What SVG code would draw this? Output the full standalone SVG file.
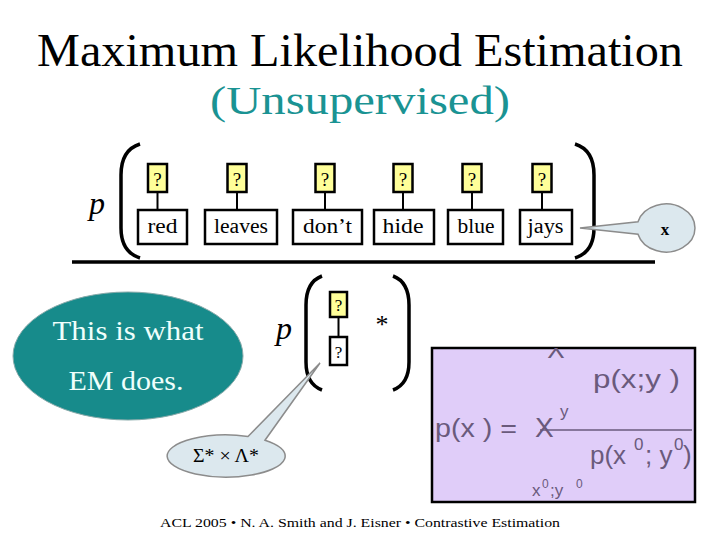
<svg xmlns="http://www.w3.org/2000/svg" width="720" height="540" viewBox="0 0 720 540">
<style>
.serif{font-family:"Liberation Serif","DejaVu Serif",serif}
.sans{font-family:"Liberation Sans","DejaVu Sans",sans-serif}
.q{fill:#ffff99;stroke:#000;stroke-width:2.5}
.w{fill:#fff;stroke:#000;stroke-width:2.5}
.bt{font-size:20px;text-anchor:middle}
.qt{font-size:19px;text-anchor:middle}
.paren{fill:none;stroke:#000;stroke-width:3.5}
.stem{stroke:#000;stroke-width:2}
.f{fill:#6a5a7c}
</style>
<defs>
<clipPath id="boxclip"><rect x="432" y="348" width="263" height="154"/></clipPath>
</defs>
<rect width="720" height="540" fill="#fff"/>
<g id="title">
<text class="serif" x="360" y="66" font-size="46" text-anchor="middle" textLength="646" lengthAdjust="spacingAndGlyphs">Maximum Likelihood Estimation</text>
<text class="serif" x="360" y="114" font-size="40" text-anchor="middle" fill="#1a9393" textLength="300" lengthAdjust="spacingAndGlyphs">(Unsupervised)</text>
</g>
<g id="p1"><text class="serif" x="97" y="214" font-size="32" font-style="italic" text-anchor="middle">p</text></g>
<g id="brackets1">
<path class="paren" d="M140 144 Q121 150 121 175 L121 228 Q121 252 140 258"/>
<path class="paren" d="M575 144 Q594 150 594 175 L594 228 Q594 252 575 258"/>
</g>
<g id="connectors">
<line class="stem" x1="157.5" y1="192" x2="157.5" y2="210"/>
<line class="stem" x1="237" y1="192" x2="237" y2="210"/>
<line class="stem" x1="325" y1="192" x2="325" y2="210"/>
<line class="stem" x1="403" y1="192" x2="403" y2="210"/>
<line class="stem" x1="472" y1="192" x2="472" y2="210"/>
<line class="stem" x1="542" y1="192" x2="542" y2="210"/>
<line class="stem" x1="338.5" y1="317" x2="338.5" y2="337"/>
</g>
<g id="n-red"><rect class="q" x="148" y="164" width="19" height="28"/><text class="serif qt" x="157.5" y="186">?</text><rect class="w" x="138" y="210" width="49" height="34"/><text class="serif bt" x="162.5" y="233" textLength="30" lengthAdjust="spacingAndGlyphs">red</text></g>
<g id="n-leaves"><rect class="q" x="227.5" y="164" width="19" height="28"/><text class="serif qt" x="237" y="186">?</text><rect class="w" x="205" y="210" width="72" height="34"/><text class="serif bt" x="241" y="233" textLength="54" lengthAdjust="spacingAndGlyphs">leaves</text></g>
<g id="n-dont"><rect class="q" x="315.5" y="164" width="19" height="28"/><text class="serif qt" x="325" y="186">?</text><rect class="w" x="293" y="210" width="69" height="34"/><text class="serif bt" x="327.5" y="233" textLength="49" lengthAdjust="spacingAndGlyphs">don’t</text></g>
<g id="n-hide"><rect class="q" x="393.5" y="164" width="19" height="28"/><text class="serif qt" x="403" y="186">?</text><rect class="w" x="374" y="210" width="60" height="34"/><text class="serif bt" x="403" y="233" textLength="41" lengthAdjust="spacingAndGlyphs">hide</text></g>
<g id="n-blue"><rect class="q" x="462.5" y="164" width="19" height="28"/><text class="serif qt" x="472" y="186">?</text><rect class="w" x="448" y="210" width="55" height="34"/><text class="serif bt" x="476" y="233" textLength="37" lengthAdjust="spacingAndGlyphs">blue</text></g>
<g id="n-jays"><rect class="q" x="532.5" y="164" width="19" height="28"/><text class="serif qt" x="542" y="186">?</text><rect class="w" x="520" y="210" width="52" height="34"/><text class="serif bt" x="545.5" y="233" textLength="36" lengthAdjust="spacingAndGlyphs">jays</text></g>
<g id="callout-x">
<path d="M580 228 L638 221.7 A29 24 0 1 1 638 234.3 Z" fill="#dce8ee" stroke="#8c8c8c" stroke-width="1.5"/>
<text class="serif" x="665" y="235" font-size="17" font-weight="bold" text-anchor="middle">x</text>
</g>
<line id="rule" x1="72" y1="262" x2="655" y2="262" stroke="#000" stroke-width="3.5"/>
<g id="em-bubble">
<ellipse cx="128" cy="356" rx="115" ry="64" fill="#178b8b" stroke="#8aa" stroke-width="1"/>
<text class="serif" x="128" y="340" font-size="27" fill="#effffc" text-anchor="middle" textLength="151" lengthAdjust="spacingAndGlyphs">This is what</text>
<text class="serif" x="126" y="390" font-size="27" fill="#effffc" text-anchor="middle" textLength="115" lengthAdjust="spacingAndGlyphs">EM does.</text>
</g>
<g id="p2"><text class="serif" x="284" y="339" font-size="32" font-style="italic" text-anchor="middle">p</text></g>
<g id="brackets2">
<path class="paren" d="M322 276 Q306 282 306 305 L306 362 Q306 384 322 390"/>
<path class="paren" d="M393 276 Q409 282 409 305 L409 362 Q409 384 393 390"/>
</g>
<g id="n-pair"><rect class="q" x="330" y="292" width="17" height="25"/><text class="serif" x="338.5" y="311" font-size="17" text-anchor="middle">?</text><rect class="w" x="330" y="337" width="17" height="28"/><text class="serif" x="338.5" y="358" font-size="17" text-anchor="middle">?</text></g>
<g id="star"><text class="serif" x="382" y="333" font-size="26" text-anchor="middle">*</text></g>
<g id="callout-sigma">
<path d="M248 436.5 L320 363 L265 440.2 A59 21 0 1 1 248 436.5 Z" fill="#dce8ee" stroke="#8c8c8c" stroke-width="1.5"/>
<text class="serif" x="226" y="462" font-size="19" text-anchor="middle" textLength="66" lengthAdjust="spacingAndGlyphs">Σ* × Λ*</text>
</g>
<g id="formula">
<rect x="432" y="348" width="263" height="154" fill="#e0cdf9" stroke="#000" stroke-width="2.5"/>
<text class="sans f" x="556" y="358" font-size="26" text-anchor="middle" clip-path="url(#boxclip)">X</text>
<text class="sans f" x="593" y="388" font-size="26" textLength="87" lengthAdjust="spacingAndGlyphs">p(x;y )</text>
<text class="sans f" x="435" y="437" font-size="26" textLength="82" lengthAdjust="spacingAndGlyphs">p(x ) =</text>
<text class="sans f" x="535" y="437" font-size="28">X</text>
<text class="sans f" x="560" y="417" font-size="17">y</text>
<line x1="540" y1="430" x2="692" y2="430" stroke="#6a5a7c" stroke-width="1.5"/>
<text class="sans f" x="590" y="464" font-size="26">p(x</text>
<text class="sans f" x="634" y="450" font-size="17">0</text>
<text class="sans f" x="645" y="464" font-size="26">; y</text>
<text class="sans f" x="674" y="450" font-size="17">0</text>
<text class="sans f" x="683" y="464" font-size="26">)</text>
<text class="sans f" x="532" y="496" font-size="17">x</text>
<text class="sans f" x="542" y="488" font-size="12">0</text>
<text class="sans f" x="550" y="496" font-size="17">;y</text>
<text class="sans f" x="576" y="488" font-size="12">0</text>
</g>
<g id="footer"><text class="serif" x="160" y="527" font-size="13" textLength="400" lengthAdjust="spacingAndGlyphs">ACL 2005  •  N. A. Smith and J. Eisner •  Contrastive Estimation</text></g>
</svg>
